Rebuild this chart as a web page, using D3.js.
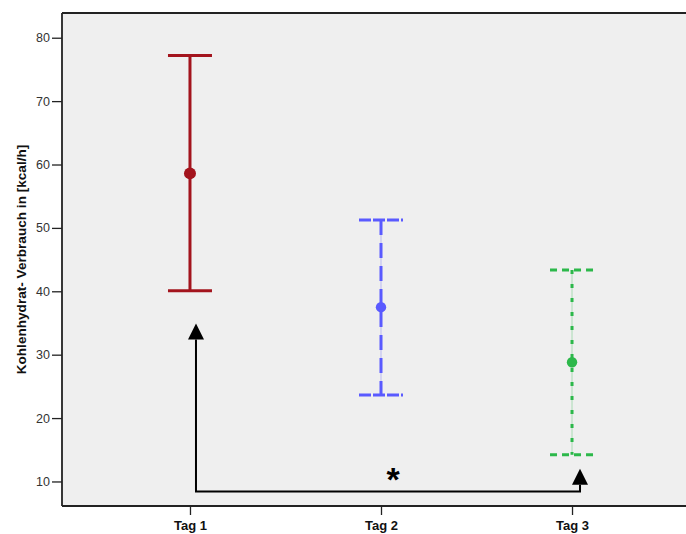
<!DOCTYPE html>
<html>
<head>
<meta charset="utf-8">
<script src="https://cdn.jsdelivr.net/npm/d3@7"></script>
<style>
  html, body { margin: 0; padding: 0; background: #fff; }
  svg { display: block; font-family: Arial, "Liberation Sans", sans-serif; }
</style>
</head>
<body>
<svg id="chart" width="686" height="534"></svg>
<script>
// Mean carbohydrate consumption per day with error bars
const categories = ["Tag 1", "Tag 2", "Tag 3"];
const means  = [58.6, 37.5, 28.8];
const upper  = [77.2, 51.25, 43.35];
const lower  = [40.1, 23.65, 14.2];
const yTicks = [10, 20, 30, 40, 50, 60, 70, 80];
const yLabel = "Kohlenhydrat- Verbrauch in [kcal/h]";

// Significance bracket (Tag 1 vs. Tag 3)
const bracketLevel = 8.4;
const bracketTips  = [34.9, 12.0];
const sigLabel = "*";

const colors = ["#a3141d", "#5a5aff", "#2cb84a"];
const lineDash = [null, "15,8", "4,10"];
const capDash  = [null, "12,2,12,2", "7,5"];

const svg = d3.select("#chart");
const m = { left: 62, top: 13, bottom: 506, right: 700 };

const x = d3.scalePoint().domain(categories).range([m.left, m.right]).padding(0.67);
const y = d3.scaleLinear().domain([6.13, 83.9]).range([m.bottom, m.top]);

// plot background
svg.append("rect")
  .attr("x", m.left).attr("y", m.top)
  .attr("width", 686 - m.left).attr("height", m.bottom - m.top)
  .attr("fill", "#efefef");

// y axis
const yAxis = svg.append("g")
  .attr("transform", `translate(${m.left},0)`)
  .call(d3.axisLeft(y).tickValues(yTicks).tickSize(10).tickPadding(2));
yAxis.select(".domain").remove();
yAxis.selectAll(".tick line").attr("stroke", "#222").attr("stroke-width", 1.3);
yAxis.selectAll(".tick text").attr("fill", "#333").style("font-size", "12.5px");

// x axis
const xAxis = svg.append("g")
  .attr("transform", `translate(0,${m.bottom})`)
  .call(d3.axisBottom(x).tickSize(9).tickPadding(6));
xAxis.select(".domain").remove();
xAxis.selectAll(".tick line").attr("stroke", "#222").attr("stroke-width", 1.3);
xAxis.selectAll(".tick text").attr("fill", "#111")
  .style("font-size", "13px").style("font-weight", "bold");

// frame lines (left, top, bottom)
svg.append("line").attr("x1", m.left).attr("x2", m.left)
  .attr("y1", m.top).attr("y2", m.bottom).attr("stroke", "#222").attr("stroke-width", 1.8);
svg.append("line").attr("x1", m.left).attr("x2", 686)
  .attr("y1", m.top).attr("y2", m.top).attr("stroke", "#222").attr("stroke-width", 1.8);
svg.append("line").attr("x1", m.left).attr("x2", 686)
  .attr("y1", m.bottom).attr("y2", m.bottom).attr("stroke", "#222").attr("stroke-width", 1.8);

// y axis title
svg.append("text")
  .attr("transform", `translate(26,${(m.top + m.bottom) / 2}) rotate(-90)`)
  .attr("text-anchor", "middle")
  .style("font-size", "13.6px").style("font-weight", "bold").attr("fill", "#111")
  .text(yLabel);

// error bars
const capHalf = 22;
categories.forEach((c, i) => {
  const g = svg.append("g");
  const cx = x(c);
  if (lineDash[i]) {
    // faint guide line under the dashed whisker
    g.append("line").attr("x1", cx).attr("x2", cx)
      .attr("y1", y(upper[i])).attr("y2", y(lower[i]))
      .attr("stroke", colors[i]).attr("stroke-opacity", 0.35).attr("stroke-width", 1);
  }
  g.append("line").attr("x1", cx).attr("x2", cx)
    .attr("y1", y(upper[i])).attr("y2", y(lower[i]))
    .attr("stroke", colors[i]).attr("stroke-width", 3)
    .attr("stroke-dasharray", lineDash[i]);
  [upper[i], lower[i]].forEach(v => {
    g.append("line").attr("x1", cx - capHalf).attr("x2", cx + capHalf)
      .attr("y1", y(v)).attr("y2", y(v))
      .attr("stroke", colors[i]).attr("stroke-width", 3)
      .attr("stroke-dasharray", capDash[i]);
  });
  g.append("circle").attr("cx", cx).attr("cy", y(means[i]))
    .attr("r", i === 0 ? 6 : 5.2).attr("fill", colors[i]);
});

// significance bracket with arrows
const bx1 = x(categories[0]) + 6;
const bx2 = x(categories[2]) + 8;
const headH = 16, headW = 8;
svg.append("path")
  .attr("d", `M${bx1},${y(bracketTips[0]) + headH} V${y(bracketLevel)} H${bx2} V${y(bracketTips[1]) + headH}`)
  .attr("fill", "none").attr("stroke", "#000").attr("stroke-width", 2);
[[bx1, bracketTips[0]], [bx2, bracketTips[1]]].forEach(([ax, v]) => {
  const ty = y(v);
  svg.append("path")
    .attr("d", `M${ax},${ty} L${ax - headW},${ty + headH} L${ax + headW},${ty + headH} Z`)
    .attr("fill", "#000");
});
svg.append("text")
  .attr("x", x(categories[1]) + 12).attr("y", y(bracketLevel) - 1)
  .attr("text-anchor", "middle")
  .style("font-size", "34px").style("font-weight", "bold").attr("fill", "#000")
  .text(sigLabel);
</script>
</body>
</html>
